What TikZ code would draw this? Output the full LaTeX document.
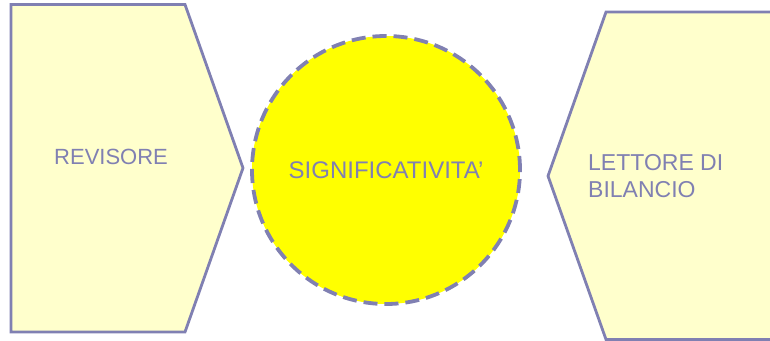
\documentclass[tikz,border=0pt]{standalone}
\usepackage{fontspec}
\setmainfont{Liberation Sans}
\definecolor{lineC}{RGB}{128,128,178}
\definecolor{paleY}{RGB}{255,255,204}
\definecolor{brightY}{RGB}{255,255,0}
\tikzset{
  panel/.style={draw=lineC, fill=paleY, line width=2.8pt, line join=miter},
  hub/.style={circle, draw=lineC, fill=brightY, line width=3.8pt, dash pattern=on 14pt off 7pt, minimum size=268pt, inner sep=0pt},
  lbl/.style={text=lineC, font=\fontsize{22}{27}\selectfont, inner sep=0pt}
}
\begin{document}
\begin{tikzpicture}[x=1pt,y=1pt]
\useasboundingbox (0,0) rectangle (770,340);
\clip (0,0) rectangle (770,340);
% left panel
\draw[panel] (11,335.5) -- (185,335.5) -- (243,172) -- (185,8) -- (11,8) -- cycle;
% right panel
\draw[panel] (780,328) -- (606,328) -- (548,164) -- (606,0.5) -- (780,0.5);
% centre circle
\node[hub, lbl, font=\fontsize{24}{29}\selectfont] (sig) at (386,170) {SIGNIFICATIVITA'};
\node[lbl, anchor=base west] (rev) at (54,175) {REVISORE};
\node[lbl, anchor=base west, align=left, font=\fontsize{23}{27}\selectfont] (let) at (588,142) {LETTORE DI\\BILANCIO};
\end{tikzpicture}
\end{document}
